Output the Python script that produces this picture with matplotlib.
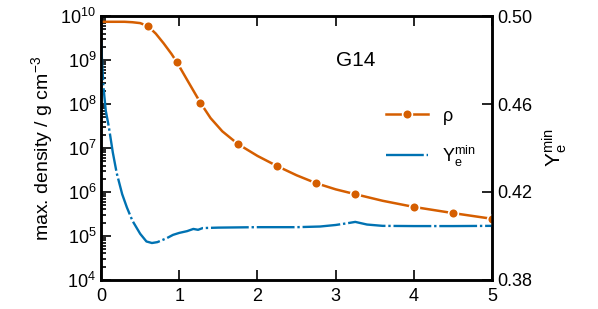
import matplotlib.pyplot as plt
import numpy as np

plt.rcParams['font.family'] = ['Liberation Sans', 'DejaVu Sans']
plt.rcParams['mathtext.fontset'] = 'custom'
plt.rcParams['mathtext.rm'] = 'Liberation Sans'
plt.rcParams['mathtext.it'] = 'Liberation Sans'

# max density (log10 g/cm^3) vs time
rho_t = [0, 0.1, 0.2, 0.3, 0.4, 0.5, 0.6, 0.7, 0.8, 0.9, 0.97, 1.1, 1.27, 1.4,
         1.55, 1.75, 2.0, 2.25, 2.5, 2.75, 3.0, 3.25, 3.6, 4.0, 4.5, 5.0]
rho_log = [9.87, 9.87, 9.87, 9.87, 9.86, 9.84, 9.77, 9.6, 9.38, 9.14, 8.95, 8.55,
           8.03, 7.68, 7.38, 7.09, 6.82, 6.59, 6.38, 6.20, 6.06, 5.95, 5.80, 5.66,
           5.52, 5.39]
rho_marks = [6, 10, 12, 15, 17, 19, 21, 23, 24, 25]

# minimum electron fraction vs time
ye_t = [0, 0.03, 0.06, 0.1, 0.15, 0.2, 0.27, 0.33, 0.4, 0.5, 0.58, 0.65, 0.72,
        0.84, 0.92, 1.0, 1.1, 1.18, 1.24, 1.3, 1.5, 2.0, 2.5, 2.8, 3.0, 3.15,
        3.25, 3.4, 3.6, 4.0, 4.5, 5.0]
ye_v = [0.488, 0.468, 0.457, 0.4495, 0.438, 0.4286, 0.419, 0.413, 0.407, 0.4010,
        0.3975, 0.3968, 0.3972, 0.399, 0.4005, 0.4014, 0.4022, 0.4032, 0.4028,
        0.4036, 0.4038, 0.4040, 0.4040, 0.4043, 0.4050, 0.4058, 0.4064, 0.4052,
        0.4046, 0.4045, 0.4045, 0.4046]

orange = '#d55e00'
blue = '#0072b2'

fig = plt.figure(figsize=(5.98, 3.09), dpi=100)
ax = fig.add_axes([0.169, 0.094, 0.654, 0.854])
ax2 = ax.twinx()

ax.plot(rho_t, np.power(10.0, rho_log), color=orange, lw=1.8, marker='o',
        markevery=rho_marks, ms=7, mfc=orange, mec='white', mew=1.2,
        label=r'$\rho$', zorder=3)
ax.set_yscale('log')
ax.set_ylim(1e4, 1e10)
ax.set_xlim(0, 5)

ax2.plot(ye_t, ye_v, color=blue, lw=1.7, ls=(0, (16, 1.2, 1, 1.2)),
         label=r'$\mathregular{Y_e^{min}}$')
ax2.set_ylim(0.38, 0.50)
ax2.set_yticks([0.38, 0.42, 0.46, 0.50])
ax2.set_yticklabels(['0.38', '0.42', '0.46', '0.50'])

ax.set_yticks([10.0 ** k for k in range(4, 11)])
ax.set_yticklabels([r'$\mathregular{10^{%d}}$' % k for k in range(4, 11)])
ax.set_xticks([0, 1, 2, 3, 4, 5])

for a in (ax, ax2):
    for s in a.spines.values():
        s.set_linewidth(1.8)
ax.tick_params(which='both', direction='in', top=True, labelsize=13, width=1.2)
ax.tick_params(which='major', length=7)
ax.tick_params(which='minor', length=3.5, top=False)
ax.tick_params(axis='x', pad=6)
ax2.tick_params(direction='in', labelsize=13, length=7, width=1.2)

ax.set_ylabel(r'max. density / g cm$\mathregular{^{-3}}$', fontsize=14)
ax2.set_ylabel(r'$\mathregular{Y_e^{min}}$', fontsize=15, labelpad=6)

ax.text(3.25, 10 ** 9.0, 'G14', fontsize=15, ha='center', va='center')

h1, l1 = ax.get_legend_handles_labels()
h2, l2 = ax2.get_legend_handles_labels()
ax2.legend(h1 + h2, l1 + l2, loc='upper right', bbox_to_anchor=(1.0, 0.715),
           frameon=False, fontsize=13, handlelength=2.3, labelspacing=0.95)

fig.savefig('out.png', dpi=100)
